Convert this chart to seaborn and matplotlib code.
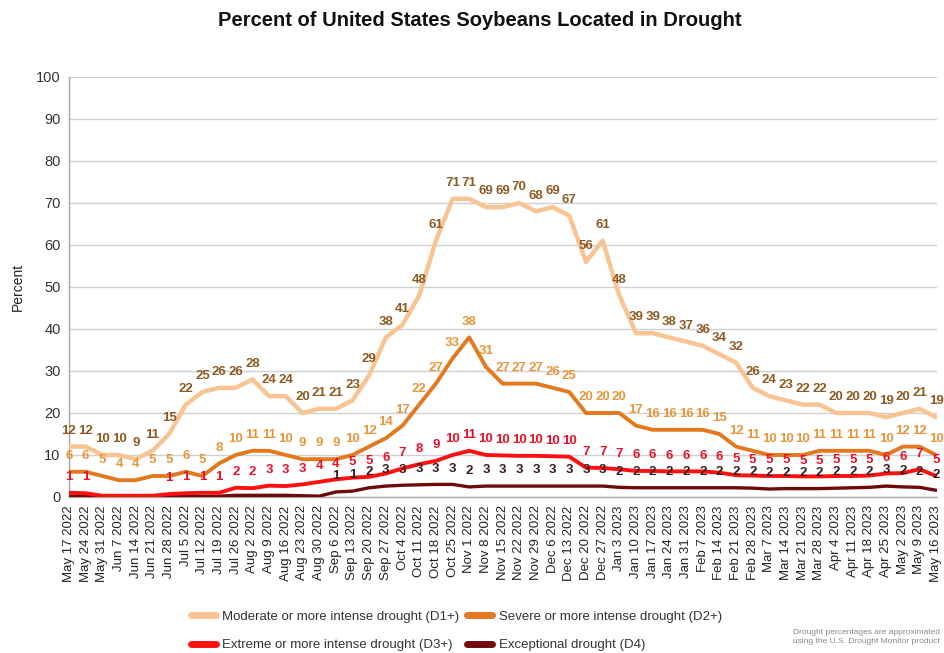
import matplotlib
matplotlib.use("Agg")
import matplotlib.pyplot as plt
import seaborn as sns
import pandas as pd
from matplotlib.lines import Line2D

dates = ["May 17 2022", "May 24 2022", "May 31 2022", "Jun 7 2022", "Jun 14 2022", "Jun 21 2022",
         "Jun 28 2022", "Jul 5 2022", "Jul 12 2022", "Jul 19 2022", "Jul 26 2022", "Aug 2 2022",
         "Aug 9 2022", "Aug 16 2022", "Aug 23 2022", "Aug 30 2022", "Sep 6 2022", "Sep 13 2022",
         "Sep 20 2022", "Sep 27 2022", "Oct 4 2022", "Oct 11 2022", "Oct 18 2022", "Oct 25 2022",
         "Nov 1 2022", "Nov 8 2022", "Nov 15 2022", "Nov 22 2022", "Nov 29 2022", "Dec 6 2022",
         "Dec 13 2022", "Dec 20 2022", "Dec 27 2022", "Jan 3 2023", "Jan 10 2023", "Jan 17 2023",
         "Jan 24 2023", "Jan 31 2023", "Feb 7 2023", "Feb 14 2023", "Feb 21 2023", "Feb 28 2023",
         "Mar 7 2023", "Mar 14 2023", "Mar 21 2023", "Mar 28 2023", "Apr 4 2023", "Apr 11 2023",
         "Apr 18 2023", "Apr 25 2023", "May 2 2023", "May 9 2023", "May 16 2023"]

d1 = [12, 12, 10, 10, 9, 11, 15, 22, 25, 26, 26, 28, 24, 24, 20, 21, 21, 23, 29, 38, 41, 48, 61,
      71, 71, 69, 69, 70, 68, 69, 67, 56, 61, 48, 39, 39, 38, 37, 36, 34, 32, 26, 24, 23, 22, 22,
      20, 20, 20, 19, 20, 21, 19]
d2 = [6, 6, 5, 4, 4, 5, 5, 6, 5, 8, 10, 11, 11, 10, 9, 9, 9, 10, 12, 14, 17, 22, 27, 33, 38, 31,
      27, 27, 27, 26, 25, 20, 20, 20, 17, 16, 16, 16, 16, 15, 12, 11, 10, 10, 10, 11, 11, 11, 11,
      10, 12, 12, 10]
d3 = [1.0, 0.9, 0.3, 0.3, 0.3, 0.3, 0.7, 0.9, 1.0, 1.0, 2.2, 2.1, 2.7, 2.6, 3.0, 3.6, 4.2, 4.6,
      4.8, 5.6, 6.8, 7.8, 8.6, 10.0, 11.0, 10.0, 9.9, 9.8, 9.8, 9.7, 9.6, 7.0, 6.9, 6.6, 6.2, 6.2,
      6.1, 6.1, 6.1, 5.8, 5.2, 5.1, 5.0, 5.0, 4.9, 4.9, 5.0, 5.0, 5.1, 5.6, 5.7, 6.6, 5.0]
d4 = [0.2, 0.2, 0.1, 0.1, 0.1, 0.1, 0.1, 0.1, 0.1, 0.2, 0.4, 0.4, 0.4, 0.4, 0.3, 0.2, 1.2, 1.4,
      2.2, 2.6, 2.8, 2.9, 3.0, 3.0, 2.4, 2.6, 2.6, 2.6, 2.6, 2.6, 2.6, 2.6, 2.6, 2.3, 2.2, 2.2,
      2.2, 2.2, 2.2, 2.2, 2.2, 2.1, 1.9, 2.0, 2.0, 2.0, 2.1, 2.2, 2.3, 2.6, 2.4, 2.3, 1.6]

series_names = ["Moderate or more intense drought (D1+)", "Severe or more intense drought (D2+)",
                "Extreme or more intense drought (D3+)", "Exceptional drought (D4)"]
series_vals = [d1, d2, d3, d4]
line_colors = ["#F9C493", "#E2791E", "#FF1010", "#6E0A0A"]
label_colors = ["#8C5A22", "#E8963A", "#E8102A", "#3A1C1C"]
line_widths = [3.2, 2.8, 2.8, 2.4]

sns.set_theme(style="white")
plt.rcParams['font.family'] = ['Liberation Sans', 'DejaVu Sans']

rows = []
for name, vals in zip(series_names, series_vals):
    for i, v in enumerate(vals):
        rows.append({"idx": i, "value": v, "series": name})
df = pd.DataFrame(rows)

fig = plt.figure(figsize=(9.45, 6.53), dpi=100)
ax = fig.add_axes([69 / 945, 1 - 497 / 653, (937 - 69) / 945, (497 - 77) / 653])

for name, col, lw in list(zip(series_names, line_colors, line_widths))[::-1]:
    sub = df[df["series"] == name]
    sns.lineplot(data=sub, x="idx", y="value", color=col, linewidth=lw, ax=ax,
                 legend=False, zorder=3)

for vals, col in zip(series_vals, label_colors):
    for i, v in enumerate(vals):
        r = int(round(v))
        if r < 1:
            continue
        ax.annotate(str(r), (i, v), xytext=(0, 7), textcoords="offset points",
                    ha="center", va="bottom", fontsize=9.5, fontweight="bold", color=col,
                    zorder=5)

ax.set_ylim(0, 100)
ax.set_xlim(0, 52.05)
ax.set_yticks(range(0, 101, 10))
ax.set_yticklabels([str(v) for v in range(0, 101, 10)], fontsize=10.5, color="#333333")
ax.set_xticks(range(len(dates)))
ax.set_xticklabels(dates, rotation=90, fontsize=9.5, color="#222222")
ax.yaxis.grid(True, color="#D0D0D0", linewidth=1)
ax.xaxis.grid(False)
for s in ["top", "right"]:
    ax.spines[s].set_visible(False)
for s in ["left", "bottom"]:
    ax.spines[s].set_color("#A6A6A6")
    ax.spines[s].set_linewidth(1)
ax.tick_params(axis="both", which="both", length=4, color="#A6A6A6", width=1, pad=2)
ax.set_xlabel("")
ax.set_ylabel("Percent", fontsize=10, color="#222222", labelpad=8)

fig.text(480 / 945, 1 - 20 / 653, "Percent of United States Soybeans Located in Drought",
         ha="center", va="center", fontsize=14.5, fontweight="bold", color="#111111")

order = [0, 2, 1, 3]
handles = [Line2D([0], [0], color=line_colors[k], linewidth=5) for k in order]
labels = [series_names[k] for k in order]
leg = fig.legend(handles, labels, loc="center left", bbox_to_anchor=(184 / 945, 1 - 631 / 653),
                 ncol=2, frameon=False, fontsize=9.5, handlelength=1.9, columnspacing=0.6,
                 labelspacing=1.2, handletextpad=0.5, borderpad=0)
for t in leg.get_texts():
    t.set_color("#333333")

fig.text(793 / 945, 1 - 637 / 653, "Drought percentages are approximated\nusing the U.S. Drought Monitor product",
         ha="left", va="center", fontsize=6, color="#888888", linespacing=1.3)

fig.savefig("out.png", dpi=100)
